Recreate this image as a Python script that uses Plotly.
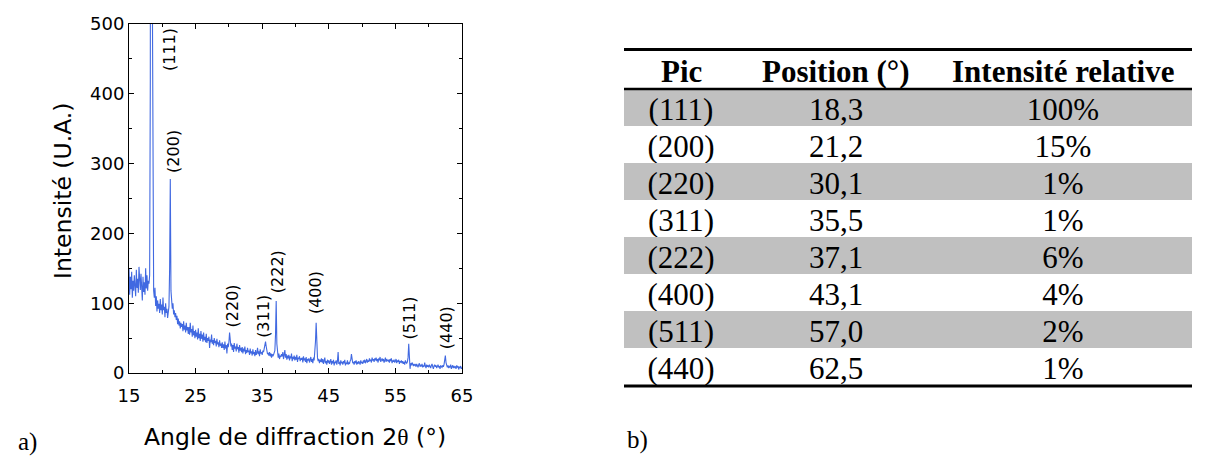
import plotly.graph_objects as go

# page body adds an 8px margin; lay out in screen pixels and convert
OFF = 8
FW, FH = 1201, 450


def px(x):
    return (x - OFF) / FW


def py(y):
    return 1 - (y - OFF) / FH


# ---------------- data ----------------
two_theta = [round(15 + 0.1 * i, 1) for i in range(501)]
intensity = [
    150, 112, 138, 120, 145, 108, 132, 118, 140, 125,
    110, 148, 122, 135, 115, 152, 128, 119, 142, 124,
    104, 138, 116, 130, 112, 150, 121, 140, 118, 132,
    128, 140, 420, 1850, 1500, 560, 130, 118, 108, 122,
    96, 110, 88, 104, 92, 99, 86, 106, 90, 98,
    84, 108, 90, 95, 80, 100, 86, 92, 79, 88,
    95, 150, 278, 118, 108, 92, 100, 84, 90, 80,
    86, 76, 82, 70, 78, 68, 74, 64, 72, 66,
    70, 60, 74, 62, 68, 58, 72, 61, 66, 56,
    66, 55, 72, 58, 63, 52, 68, 54, 60, 50,
    62, 52, 58, 48, 64, 50, 56, 46, 60, 49,
    55, 45, 58, 47, 52, 44, 56, 43, 50, 46,
    52, 36, 48, 44, 55, 42, 47, 40, 50, 43,
    46, 38, 49, 41, 44, 37, 47, 39, 42, 36,
    44, 36, 41, 33, 45, 35, 40, 28, 42, 37,
    44, 58, 48, 38, 42, 33, 40, 30, 43, 35,
    38, 31, 42, 34, 37, 29, 40, 32, 36, 30,
    37, 28, 35, 31, 38, 27, 33, 29, 36, 30,
    32, 26, 35, 28, 31, 25, 34, 27, 30, 24,
    33, 26, 29, 36, 27, 31, 24, 34, 28, 30,
    26, 32, 30, 36, 42, 45, 38, 31, 27, 29,
    25, 30, 24, 28, 22, 27, 24, 26, 30, 32,
    55, 103, 42, 27, 22, 28, 20, 25, 23, 27,
    24, 30, 20, 26, 33, 22, 27, 19, 25, 21,
    26, 18, 24, 21, 28, 17, 23, 20, 25, 18,
    23, 19, 26, 16, 22, 20, 24, 17, 21, 19,
    22, 15, 24, 18, 21, 16, 23, 14, 20, 18,
    21, 15, 19, 23, 16, 20, 14, 22, 18, 28,
    45, 72, 40, 22, 17, 20, 14, 19, 16, 21,
    15, 20, 13, 18, 22, 14, 17, 12, 19, 15,
    18, 13, 16, 20, 12, 17, 14, 19, 11, 16,
    14, 18, 12, 17, 30, 13, 16, 11, 18, 14,
    16, 12, 17, 14, 19, 11, 15, 13, 18, 12,
    15, 13, 17, 19, 27, 20, 14, 16, 12, 17,
    14, 18, 12, 16, 13, 17, 15, 12, 18, 14,
    16, 13, 18, 15, 19, 14, 17, 20, 15, 18,
    16, 21, 17, 19, 15, 22, 18, 20, 16, 21,
    18, 22, 17, 20, 15, 21, 18, 23, 16, 19,
    21, 17, 20, 15, 19, 22, 16, 20, 18, 17,
    19, 15, 20, 17, 21, 14, 18, 16, 19, 15,
    17, 20, 14, 18, 16, 19, 13, 17, 15, 18,
    14, 17, 13, 16, 12, 18, 15, 14, 16, 22,
    42, 20, 6, 14, 11, 15, 12, 10, 13, 11,
    12, 9, 13, 10, 8, 12, 14, 9, 11, 10,
    13, 8, 11, 9, 15, 10, 7, 12, 9, 11,
    8, 12, 10, 7, 11, 13, 9, 6, 10, 12,
    9, 11, 7, 10, 12, 8, 10, 6, 11, 9,
    8, 11, 9, 12, 17, 25, 15, 10, 8, 11,
    7, 10, 8, 12, 6, 9, 11, 7, 10, 8,
    9, 6, 11, 8, 10, 5, 9, 7, 10, 6,
    8,
]

peak_labels = ["(111)", "(200)", "(220)", "(311)", "(222)", "(400)", "(511)", "(440)"]
label_x = [21.1, 21.7, 30.5, 35.1, 37.2, 43.1, 57.1, 62.8]
label_y = [430, 284, 62, 48, 112, 81, 45, 31]

x_ticks = [15, 25, 35, 45, 55, 65]
y_ticks = [0, 100, 200, 300, 400, 500]

table_header = ["Pic", "Position (°)", "Intensité relative"]
pics = ["(111)", "(200)", "(220)", "(311)", "(222)", "(400)", "(511)", "(440)"]
positions = ["18,3", "21,2", "30,1", "35,5", "37,1", "43,1", "57,0", "62,5"]
rel_int = ["100%", "15%", "1%", "1%", "6%", "4%", "2%", "1%"]

# ---------------- figure ----------------
fig = go.Figure()

fig.add_trace(go.Scatter(
    x=two_theta, y=intensity, mode="lines",
    line=dict(color="#4169E1", width=1.1),
    hoverinfo="skip", showlegend=False,
))

# table (header row kept blank; header texts are placed as annotations)
tx0, tx1 = 624, 1192
col_w = [114, 196, 258]
row_fill = ["#c0c0c0" if i % 2 == 0 else "white" for i in range(len(pics))]
fig.add_trace(go.Table(
    domain=dict(x=[px(tx0), px(tx1)], y=[0, py(50)]),
    columnwidth=col_w,
    header=dict(values=["", "", ""], fill_color="white",
                line=dict(color="rgba(0,0,0,0)", width=0),
                font=dict(family="Liberation Serif", size=10, color="black"),
                align="center", height=39),
    cells=dict(values=[pics, positions, rel_int],
               fill_color=[row_fill, row_fill, row_fill],
               line=dict(color="rgba(0,0,0,0)", width=0),
               font=dict(family="Liberation Serif", size=31, color="black"),
               align="center", height=37),
))

# axes
axis_common = dict(
    showline=True, linecolor="black", linewidth=1, mirror="ticks",
    ticks="inside", ticklen=5, tickcolor="black", tickwidth=1,
    showgrid=False, zeroline=False, automargin=False,
    tickfont=dict(family="DejaVu Sans", size=18, color="black"),
    minor=dict(ticks="inside", ticklen=3, tickcolor="black", showgrid=False),
)
fig.update_xaxes(domain=[px(129), px(462)], range=[15, 65], tickvals=x_ticks,
                 minor_dtick=5, anchor="y", ticklabelstandoff=6, **axis_common)
fig.update_yaxes(domain=[py(373), py(24)], range=[0, 500], tickvals=y_ticks,
                 minor_dtick=50, anchor="x", **axis_common)

ann = []
for lab, lx, ly in zip(peak_labels, label_x, label_y):
    ann.append(dict(x=lx, y=ly, xref="x", yref="y", text=lab, showarrow=False,
                    textangle=-90, xanchor="center", yanchor="bottom",
                    font=dict(family="DejaVu Sans", size=16, color="black")))

# header texts
cx = tx0
for name, w in zip(table_header, col_w):
    ann.append(dict(x=px(cx + w / 2), y=py(71), xref="paper", yref="paper",
                    text="<b>" + name + "</b>", showarrow=False,
                    xanchor="center", yanchor="middle",
                    font=dict(family="Liberation Serif", size=31, color="black")))
    cx += w

ann.append(dict(x=px(295), y=py(437), xref="paper", yref="paper",
                text="Angle de diffraction 2<span style='font-family:Liberation Serif'>θ</span> (°)",
                showarrow=False, xanchor="center", yanchor="middle",
                font=dict(family="DejaVu Sans", size=23.5, color="black")))
ann.append(dict(x=px(63), y=py(191), xref="paper", yref="paper",
                text="Intensité (U.A.)", textangle=-90,
                showarrow=False, xanchor="center", yanchor="middle",
                font=dict(family="DejaVu Sans", size=23.5, color="black")))
ann.append(dict(x=px(27), y=py(442), xref="paper", yref="paper",
                text="a)", showarrow=False, xanchor="center", yanchor="middle",
                font=dict(family="Liberation Serif", size=25, color="black")))
ann.append(dict(x=px(637), y=py(440), xref="paper", yref="paper",
                text="b)", showarrow=False, xanchor="center", yanchor="middle",
                font=dict(family="Liberation Serif", size=25, color="black")))

shapes = []
for yy, lw in [(49.5, 3), (89, 2.5), (386, 3)]:
    shapes.append(dict(type="line", xref="paper", yref="paper",
                       x0=px(tx0), x1=px(tx1), y0=py(yy), y1=py(yy),
                       line=dict(color="black", width=lw)))

fig.update_layout(
    width=FW, height=FH, margin=dict(l=0, r=0, t=0, b=0, autoexpand=False),
    paper_bgcolor="white", plot_bgcolor="white",
    annotations=ann, shapes=shapes, showlegend=False,
)

fig.write_html("out.html")
